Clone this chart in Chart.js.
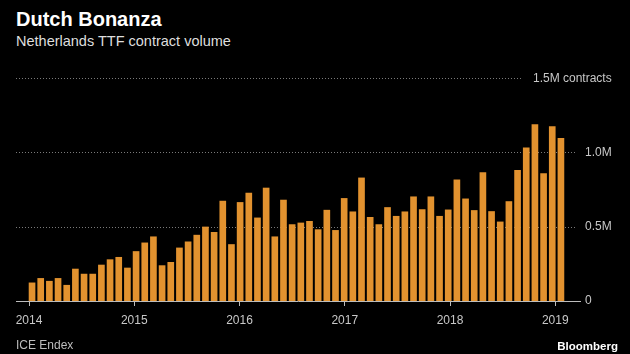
<!DOCTYPE html>
<html>
<head>
<meta charset="utf-8">
<script src="https://cdn.jsdelivr.net/npm/chart.js@4"></script>
<style>
  html, body { margin: 0; padding: 0; background: #000; }
  #wrap { position: relative; width: 630px; height: 354px; overflow: hidden;
          font-family: 'Liberation Sans', Arial, sans-serif; }
  #chart { position: absolute; left: 0; top: 0; }
  .txt { position: absolute; line-height: 1; white-space: nowrap; }
  #title    { left: 16px; top: 9px;  font-size: 20px; font-weight: bold; color: #fff; }
  #subtitle { left: 16px; top: 34px; font-size: 14.5px; color: #dedede; }
  #source   { left: 16px; top: 339px; font-size: 12px; color: #bdbdbd; }
  #brand    { right: 12px; top: 341px; font-size: 11.5px; font-weight: bold; color: #fff; }
</style>
</head>
<body>
<div id="wrap">
  <div class="txt" id="title">Dutch Bonanza</div>
  <div class="txt" id="subtitle">Netherlands TTF contract volume</div>
  <canvas id="chart" width="630" height="354"></canvas>
  <div class="txt" id="source">ICE Endex</div>
  <div class="txt" id="brand">Bloomberg</div>
</div>

<script>
/* ---------- DATA ---------- */
// monthly TTF contract volume, millions of contracts, Jan 2014 .. Feb 2019
const volumeMillions = [
  0.122, 0.152, 0.133, 0.152, 0.106, 0.215, 0.181, 0.181, 0.242, 0.278, 0.294, 0.222, // 2014
  0.333, 0.391, 0.432, 0.238, 0.260, 0.357, 0.398, 0.443, 0.498, 0.462, 0.672, 0.380, // 2015
  0.663, 0.726, 0.559, 0.760, 0.432, 0.679, 0.514, 0.525, 0.536, 0.480, 0.611, 0.475, // 2016
  0.690, 0.600, 0.828, 0.563, 0.514, 0.629, 0.570, 0.600, 0.701, 0.615, 0.701, 0.570, // 2017
  0.613, 0.815, 0.687, 0.609, 0.864, 0.602, 0.532, 0.669, 0.879, 1.031, 1.186, 0.857, // 2018
  1.174, 1.094                                                                         // 2019
];
const yearLabels = ['2014', '2015', '2016', '2017', '2018', '2019'];
const yTicks     = [0, 0.5, 1.0, 1.5];
const yTickText  = ['0', '0.5M', '1.0M', '1.5M contracts'];

/* ---------- LAYOUT ---------- */
const BAR_COLOR  = '#e2922f';
const AXIS_COLOR = '#bdbdbd';
const TEXT_COLOR = '#c8c8c8';
const FONT = "'Liberation Sans', Arial, sans-serif";
const TICK_START = -0.35;   // year ticks sit a bit left of each January bar
const TICK_STEP  = 12.14;

/* ---------- GRID + TOP LABEL ---------- */
const dottedGrid = {
  id: 'dottedGrid',
  beforeDatasetsDraw(chart) {
    const { ctx, chartArea, scales: { y } } = chart;
    ctx.save();
    ctx.font = '12px ' + FONT;
    const labelRight = chartArea.right + 5 + ctx.measureText('1.0M').width;
    yTicks.forEach((v, i) => {
      if (v === 0) return;
      const py = Math.round(y.getPixelForValue(v)) + 0.5;
      let end = chartArea.right - 3;
      if (i === yTicks.length - 1) {
        ctx.fillStyle = TEXT_COLOR;
        ctx.textAlign = 'right';
        ctx.textBaseline = 'middle';
        ctx.fillText(yTickText[i], labelRight, py);
        end = labelRight - ctx.measureText(yTickText[i]).width - 12;
      }
      ctx.strokeStyle = '#7a7a7a';
      ctx.lineWidth = 1;
      ctx.setLineDash([1, 2]);
      ctx.beginPath();
      ctx.moveTo(chartArea.left, py);
      ctx.lineTo(end, py);
      ctx.stroke();
    });
    ctx.restore();
  }
};

/* ---------- CHART ---------- */
new Chart(document.getElementById('chart'), {
  type: 'bar',
  data: {
    datasets: [{
      label: 'TTF contract volume',
      data: volumeMillions.map((v, i) => ({ x: i, y: v })),
      backgroundColor: BAR_COLOR,
      borderWidth: 0,
      barThickness: 6
    }]
  },
  options: {
    responsive: false,
    animation: false,
    layout: { padding: { left: 16, top: 78, right: 0, bottom: 0 } },
    plugins: { legend: { display: false }, tooltip: { enabled: false } },
    scales: {
      x: {
        type: 'linear',
        offset: false,
        min: -1.85,
        max: 63.2,
        afterBuildTicks: scale => {
          scale.ticks = yearLabels.map((_, k) => ({ value: TICK_START + k * TICK_STEP }));
        },
        afterFit: scale => { scale.height = 53; },
        ticks: {
          autoSkip: false,
          maxRotation: 0,
          padding: 7,
          color: TEXT_COLOR,
          font: { family: FONT, size: 12 },
          callback: (v, i) => yearLabels[i]
        },
        grid: {
          offset: false,
          drawOnChartArea: false,
          tickLength: 5,
          tickColor: AXIS_COLOR,
          tickWidth: 1
        },
        border: { display: true, color: AXIS_COLOR, width: 1 }
      },
      y: {
        position: 'right',
        min: 0,
        max: 1.5,
        afterBuildTicks: scale => {
          scale.ticks = yTicks.map(v => ({ value: v }));
        },
        afterFit: scale => { scale.width = 50; },
        ticks: {
          padding: 5,
          color: TEXT_COLOR,
          font: { family: FONT, size: 12 },
          callback: (v, i) => (i === yTicks.length - 1 ? '' : yTickText[i])
        },
        grid: { display: false, drawTicks: false },
        border: { display: false }
      }
    }
  },
  plugins: [dottedGrid]
});
</script>
</body>
</html>
